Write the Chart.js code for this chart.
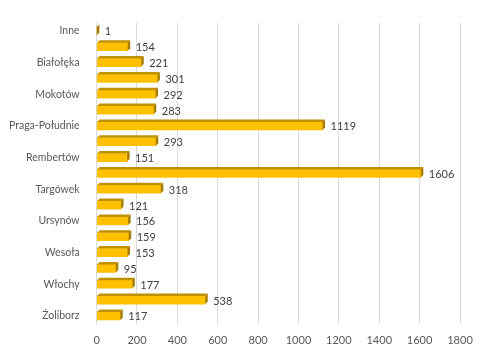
<!DOCTYPE html>
<html><head><meta charset="utf-8">
<script src="https://cdn.jsdelivr.net/npm/chart.js@4"></script>
<style>html,body{margin:0;padding:0;background:#fff}#wrap{width:498px;height:360px}</style>
</head><body><div id="wrap"><canvas id="c"></canvas></div>
<script>
const categories = ["Inne","Bemowo","Białołęka","Bielany","Mokotów","Ochota","Praga-Południe","Praga-Północ","Rembertów","Śródmieście","Targówek","Ursus","Ursynów","Wawer","Wesoła","Wilanów","Włochy","Wola","Żoliborz"];
const values = [1,154,221,301,292,283,1119,293,151,1606,318,121,156,159,153,95,177,538,117];
const xTicks = [0,200,400,600,800,1000,1200,1400,1600,1800];

const FONT = "Lato, 'Open Sans', sans-serif";
const bar3d = {
  id: 'bar3d',
  afterDatasetsDraw(chart) {
    const ctx = chart.ctx, meta = chart.getDatasetMeta(0), d = 2.5;
    ctx.save();
    meta.data.forEach((el, i) => {
      const p = el.getProps(['x','y','base','height'], true);
      const x0 = p.base, x1 = p.x, yT = p.y - p.height/2, yB = p.y + p.height/2;
      ctx.fillStyle = '#BF9000';
      ctx.beginPath();
      ctx.moveTo(x0, yT); ctx.lineTo(x0 + d, yT - d); ctx.lineTo(x1 + d, yT - d); ctx.lineTo(x1, yT); ctx.closePath(); ctx.fill();
      ctx.fillStyle = '#A67C00';
      ctx.beginPath();
      ctx.moveTo(x1, yT); ctx.lineTo(x1 + d, yT - d); ctx.lineTo(x1 + d, yB - d); ctx.lineTo(x1, yB); ctx.closePath(); ctx.fill();
      ctx.fillStyle = '#404040';
      ctx.font = '11px ' + FONT;
      ctx.textBaseline = 'middle';
      ctx.textAlign = 'left';
      ctx.fillText(String(values[i]), x1 + 8, p.y + 1);
    });
    ctx.restore();
  }
};

new Chart(document.getElementById('c'), {
  type: 'bar',
  data: { labels: categories, datasets: [{ data: values, backgroundColor: '#FFC000', borderWidth: 0, barThickness: 8 }] },
  options: {
    indexAxis: 'y', responsive: true, maintainAspectRatio: false, animation: false,
    layout: { padding: { top: 23, right: 38, bottom: 3, left: 0 } },
    plugins: { legend: { display: false }, tooltip: { enabled: false } },
    scales: {
      x: {
        min: 0, max: 1800,
        afterBuildTicks: (s) => { s.ticks = xTicks.map(v => ({ value: v })); },
        grid: { color: '#d9d9d9', lineWidth: 1, drawTicks: false },
        border: { display: false },
        ticks: { color: '#595959', font: { size: 11, family: FONT }, padding: 10, maxRotation: 0,
          callback: (v) => String(v) }
      },
      y: {
        grid: { display: false }, border: { display: false },
        ticks: { autoSkip: false, color: '#595959', font: { size: 10.5, family: FONT }, padding: 9,
          callback: function(v, i) { return i % 2 === 0 ? categories[i] : ''; } }
      }
    }
  },
  plugins: [bar3d]
});
</script></body></html>
